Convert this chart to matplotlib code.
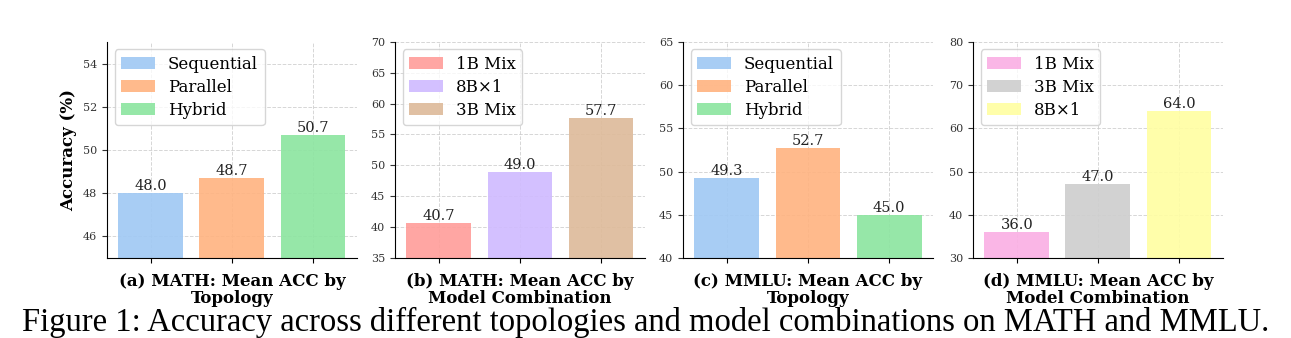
import matplotlib
matplotlib.use("Agg")
import matplotlib.pyplot as plt
import numpy as np

# data
topo_labels = ["Sequential", "Parallel", "Hybrid"]
math_topo = [48.0, 48.7, 50.7]
mmlu_topo = [49.3, 52.7, 45.0]

math_combo_labels = ["1B Mix", "8B\u00d71", "3B Mix"]
math_combo = [40.7, 49.0, 57.7]
mmlu_combo_labels = ["1B Mix", "3B Mix", "8B\u00d71"]
mmlu_combo = [36.0, 47.0, 64.0]

topo_colors = ["#a1c9f4", "#ffb482", "#8de5a1"]
math_combo_colors = ["#ff9f9b", "#d0bbff", "#debb9b"]
mmlu_combo_colors = ["#fab0e4", "#cfcfcf", "#fffea3"]

plt.rcParams["font.family"] = "DejaVu Serif"

fig = plt.figure(figsize=(12.91, 3.38), dpi=100)

panels = [
    (0.0829, math_topo, topo_labels, topo_colors, (45, 55), [46, 48, 50, 52, 54],
     "(a) MATH: Mean ACC by\nTopology"),
    (0.3060, math_combo, math_combo_labels, math_combo_colors, (35, 70),
     [35, 40, 45, 50, 55, 60, 65, 70], "(b) MATH: Mean ACC by\nModel Combination"),
    (0.5291, mmlu_topo, topo_labels, topo_colors, (40, 65), [40, 45, 50, 55, 60, 65],
     "(c) MMLU: Mean ACC by\nTopology"),
    (0.7537, mmlu_combo, mmlu_combo_labels, mmlu_combo_colors, (30, 80),
     [30, 40, 50, 60, 70, 80], "(d) MMLU: Mean ACC by\nModel Combination"),
]

for i, (left, vals, labels, colors, ylim, yticks, title) in enumerate(panels):
    ax = fig.add_axes([left, 0.237, 0.1935, 0.639])
    x = np.arange(len(vals))
    bars = ax.bar(x, vals, width=0.8, color=colors, alpha=0.92, label=labels, zorder=2)
    for b, v in zip(bars, vals):
        ax.text(b.get_x() + b.get_width() / 2, v, f"{v:.1f}", ha="center", va="bottom",
                fontsize=10.5, color="#222222", zorder=3)
    ax.set_ylim(*ylim)
    ax.set_yticks(yticks)
    ax.set_xticks(x)
    ax.set_xticklabels([])
    ax.tick_params(axis="y", labelsize=8, colors="#333333", length=3.5)
    ax.tick_params(axis="x", length=3.5)
    ax.grid(True, linestyle="--", color="#cccccc", linewidth=0.7, alpha=0.8, zorder=0)
    ax.set_axisbelow(True)
    ax.spines["top"].set_visible(False)
    ax.spines["right"].set_visible(False)
    ax.set_xlabel(title, fontsize=12, fontweight="bold", labelpad=4, linespacing=0.95)
    if i == 0:
        ax.set_ylabel("Accuracy (%)", fontsize=12, fontweight="bold")
    ax.legend(loc="upper left", fontsize=12, handlelength=2.0, handleheight=0.75,
              handletextpad=0.8, borderaxespad=0.45, labelspacing=0.35, framealpha=0.8)

fig.text(0.5, 0.045, "Figure 1: Accuracy across different topologies and model combinations on MATH and MMLU.",
         ha="center", va="center", fontsize=23.5, family="Liberation Serif")

fig.savefig("out.png", dpi=100)
